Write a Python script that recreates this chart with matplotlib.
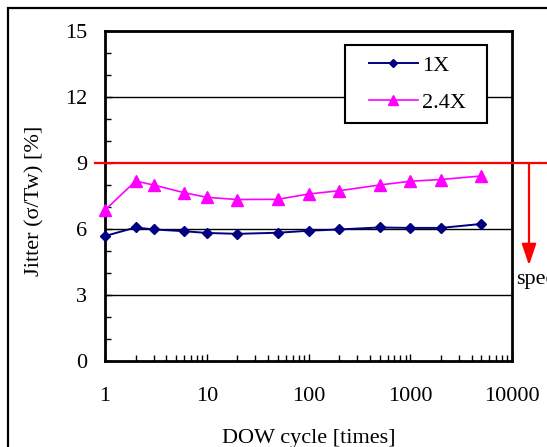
import matplotlib
matplotlib.use("Agg")
import matplotlib.pyplot as plt
from matplotlib.patches import Rectangle, FancyArrowPatch
from matplotlib.ticker import FixedLocator, NullFormatter, LogLocator

plt.rcParams['font.family'] = ['Liberation Serif', 'DejaVu Serif']

cycles = [1, 2, 3, 6, 10, 20, 50, 100, 200, 500, 1000, 2000, 5000]
jitter_1x = [5.68, 6.07, 5.98, 5.9, 5.82, 5.78, 5.83, 5.92, 5.98, 6.07, 6.05, 6.05, 6.23]
jitter_24x = [6.86, 8.18, 8.0, 7.65, 7.44, 7.34, 7.35, 7.59, 7.74, 8.0, 8.17, 8.25, 8.41]
series_names = ["1X", "2.4X"]
spec_value = 9
y_ticks = [0, 3, 6, 9, 12, 15]
x_ticks = [1, 10, 100, 1000, 10000]
x_tick_labels = ["1", "10", "100", "1000", "10000"]

W, H = 547, 447
fig = plt.figure(figsize=(W / 100, H / 100), dpi=100)
AX_L, AX_R, AX_T, AX_B = 105, 512, 31, 361
ax = fig.add_axes([AX_L / W, 1 - AX_B / H, (AX_R - AX_L) / W, (AX_B - AX_T) / H])
aw, ah = AX_R - AX_L, AX_B - AX_T

fs = 16

for yv in [3, 6, 12]:
    ax.axhline(yv, color='black', lw=1.0, zorder=1)

ax.plot(cycles, jitter_1x, color='#000080', lw=1.4, marker='D', ms=5.5,
        label=series_names[0], zorder=3, clip_on=False)
ax.plot(cycles, jitter_24x, color='#FF00FF', lw=1.2, marker='^', ms=9,
        label=series_names[1], zorder=3, clip_on=False)

ax.set_xscale('log')
ax.set_xlim(1, 10000)
ax.set_ylim(0, 15)
ax.set_xticks(x_ticks)
ax.set_xticklabels(x_tick_labels)
ax.xaxis.set_minor_locator(LogLocator(base=10, subs=range(2, 10), numticks=20))
ax.xaxis.set_minor_formatter(NullFormatter())
ax.set_yticks(y_ticks)
ax.yaxis.set_minor_locator(FixedLocator([v for v in range(0, 16) if v % 3 != 0]))
ax.tick_params(axis='both', which='both', direction='in', labelsize=fs,
               right=False, top=False)
ax.tick_params(axis='both', which='major', length=5, width=1)
ax.tick_params(axis='both', which='minor', length=4, width=1)
ax.tick_params(axis='x', pad=19)
ax.tick_params(axis='y', pad=13)
for s in ax.spines.values():
    s.set_linewidth(2.0)

# spec line
ax.plot([-10 / aw, (W - AX_L) / aw + 0.05], [spec_value, spec_value],
        transform=ax.get_yaxis_transform(), color='red', lw=1.6,
        clip_on=False, zorder=4)
xa = (529 - AX_L) / aw
arr = FancyArrowPatch((xa, spec_value), (xa, 4.35),
                      transform=ax.get_yaxis_transform(),
                      arrowstyle='-|>,head_length=0.65,head_width=0.22',
                      mutation_scale=20, color='red', lw=1.6, clip_on=False,
                      shrinkA=0, shrinkB=0)
ax.add_artist(arr)
ax.text((516 - AX_L) / aw, 3.7, "spec", transform=ax.get_yaxis_transform(),
        fontsize=fs, va='center', ha='left', clip_on=False)

fig.text(35 / W, 1 - 201 / H, "Jitter (σ/Tw) [%]", rotation=90,
         ha='center', va='center', fontsize=fs)
fig.text(309 / W, 1 - 439 / H, "DOW cycle [times]", ha='center',
         va='center', fontsize=fs)

# legend box
box = Rectangle(((345 - AX_L) / aw, (AX_B - 123) / ah), 142 / aw, 78 / ah,
                transform=ax.transAxes, facecolor='white', edgecolor='black',
                lw=1.5, zorder=4, clip_on=False)
ax.add_patch(box)
leg = ax.legend(loc='upper left',
                bbox_to_anchor=((369 - AX_L) / aw, (AX_B - 55) / ah),
                frameon=False, fontsize=fs, markerscale=0.75, borderpad=0,
                labelspacing=0.75, handlelength=2.2, borderaxespad=0,
                handletextpad=0.2)
leg.set_zorder(5)

# outer frame
fig.patches.append(Rectangle((8 / W, -0.5), 2, 0.5 + 1 - 8 / H,
                             transform=fig.transFigure, fill=False,
                             edgecolor='black', lw=1.6))

fig.savefig("out.png", dpi=100)
